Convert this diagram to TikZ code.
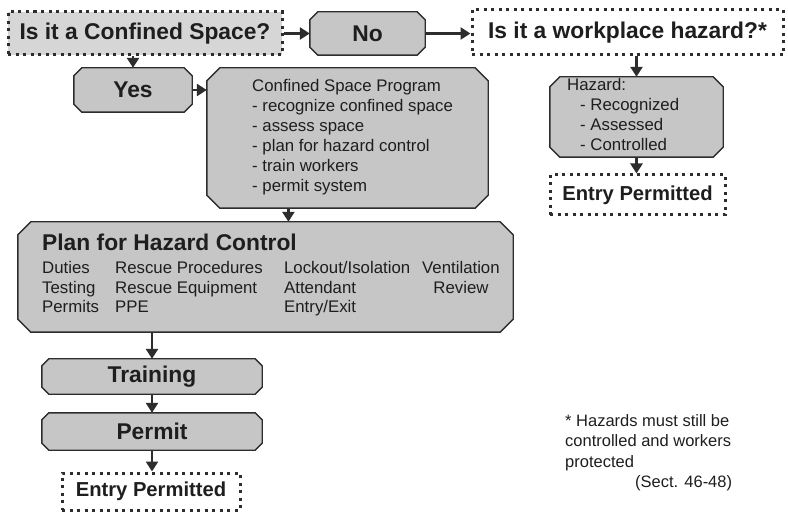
\documentclass[tikz,border=0pt]{standalone}
\usepackage{fontspec}
\setmainfont{Liberation Sans}
\usetikzlibrary{arrows.meta,calc,backgrounds}
\definecolor{boxgray}{RGB}{198,198,198}
\definecolor{lightbox}{RGB}{214,214,214}
\definecolor{ink}{RGB}{30,30,30}
\definecolor{edge}{RGB}{45,45,45}
\newcommand{\octobox}[2]{%
  \filldraw[octofill] ([xshift=#2]#1.north west) -- ([xshift=-#2]#1.north east)
    -- ([yshift=-#2]#1.north east) -- ([yshift=#2]#1.south east)
    -- ([xshift=-#2]#1.south east) -- ([xshift=#2]#1.south west)
    -- ([yshift=#2]#1.south west) -- ([yshift=-#2]#1.north west) -- cycle;}
\begin{document}
\begin{tikzpicture}[x=1pt,y=-1pt,
  octofill/.style={draw=edge, line width=1.4pt, fill=boxgray, line join=miter},
  solidbox/.style={rectangle, inner sep=0pt, text=ink},
  dotbox/.style={rectangle, inner sep=0pt, draw=edge, line width=3pt,
    dash pattern=on 3pt off 4.5pt, text=ink},
  headtext/.style={font=\fontsize{22.8}{26}\selectfont\bfseries},
  entrytext/.style={font=\fontsize{20.2}{24}\selectfont\bfseries},
  smalltext/.style={font=\fontsize{16.8}{20}\selectfont, text=ink, inner sep=0pt, align=left},
  conn/.style={line width=2.8pt, draw=edge, -{Triangle[length=10pt,width=12pt]}}
]
\useasboundingbox (0,0) rectangle (788,513);

% boxes
\node[dotbox, fill=lightbox, headtext, minimum width=274pt, minimum height=43pt] (conf) at (145,33.5) {Is it a Confined Space?};
\node[solidbox, headtext, minimum width=115pt, minimum height=43pt] (no) at (367.5,33.5) {No};
\node[dotbox, fill=white, headtext, minimum width=311pt, minimum height=45pt] (wp) at (627.5,32.5) {Is it a workplace hazard?*};
\node[solidbox, headtext, minimum width=118pt, minimum height=44pt] (yes) at (133,90) {Yes};
\node[solidbox, minimum width=281pt, minimum height=140pt] (csp) at (347.5,138) {};
\node[solidbox, minimum width=173pt, minimum height=80pt] (haz) at (636.5,117) {};
\node[dotbox, fill=white, entrytext, minimum width=175pt, minimum height=40pt] (ent1) at (637.5,195) {Entry Permitted};
\node[solidbox, minimum width=495pt, minimum height=110pt] (plan) at (265.5,277) {};
\node[solidbox, headtext, minimum width=220pt, minimum height=35pt] (train) at (152,376.5) {Training};
\node[solidbox, headtext, minimum width=220pt, minimum height=37pt] (permit) at (152,431.5) {Permit};
\node[dotbox, fill=white, entrytext, minimum width=178pt, minimum height=37pt] (ent2) at (151,491.5) {Entry Permitted};

\begin{pgfonlayer}{background}
  \octobox{no}{8pt}
  \octobox{yes}{8pt}
  \octobox{csp}{13pt}
  \octobox{haz}{10pt}
  \octobox{plan}{13pt}
  \octobox{train}{7pt}
  \octobox{permit}{7pt}
\end{pgfonlayer}

% texts inside boxes
\node[smalltext, anchor=base west] (csptext) at (252,92) {\begin{tabular}[t]{@{}l@{}}Confined Space Program\\
- recognize confined space\\
- assess space\\
- plan for hazard control\\
- train workers\\
- permit system\end{tabular}};
\node[smalltext, anchor=base west] (haztext) at (567,91) {\begin{tabular}[t]{@{}l@{}}Hazard:\\
\hspace*{13pt}- Recognized\\
\hspace*{13pt}- Assessed\\
\hspace*{13pt}- Controlled\end{tabular}};
\node[headtext, text=ink, inner sep=0pt, anchor=west] (plantitle) at (42,242) {Plan for Hazard Control};
\node[smalltext, anchor=base west, font=\fontsize{16.8}{19.5}\selectfont] (planitems) at (42,274) {\begin{tabular}[t]{@{}p{73pt}@{}p{169pt}@{}p{138pt}@{}c@{}}
Duties & Rescue Procedures & Lockout/Isolation & Ventilation\\
Testing & Rescue Equipment & Attendant & Review\\
Permits & PPE & Entry/Exit & \end{tabular}};
\node[smalltext, anchor=base west, font=\fontsize{16.5}{20.5}\selectfont] (note) at (565,426) {\begin{tabular}[t]{@{}l@{}}* Hazards must still be\\
controlled and workers\\
protected\\
\hspace*{70pt}(Sect. 46-48)\end{tabular}};

% connectors
\draw[conn] (conf.east) -- (conf.east -| no.west);
\draw[conn] (no.east) -- (no.east -| wp.west);
\draw[conn] (yes.north |- conf.south) -- (yes.north);
\draw[conn] (yes.east) -- (yes.east -| csp.west);
\draw[conn] (haz.north |- wp.south) -- (haz.north);
\draw[conn] (haz.south) -- (haz.south |- ent1.north);
\coordinate (cspout) at ($(csp.south west)!0.29!(csp.south east)$);
\draw[conn] (cspout) -- (cspout |- plan.north);
\draw[conn] (train.north |- plan.south) -- (train.north);
\draw[conn] (train.south) -- (permit.north);
\draw[conn] (permit.south) -- (permit.south |- ent2.north);
\end{tikzpicture}
\end{document}
